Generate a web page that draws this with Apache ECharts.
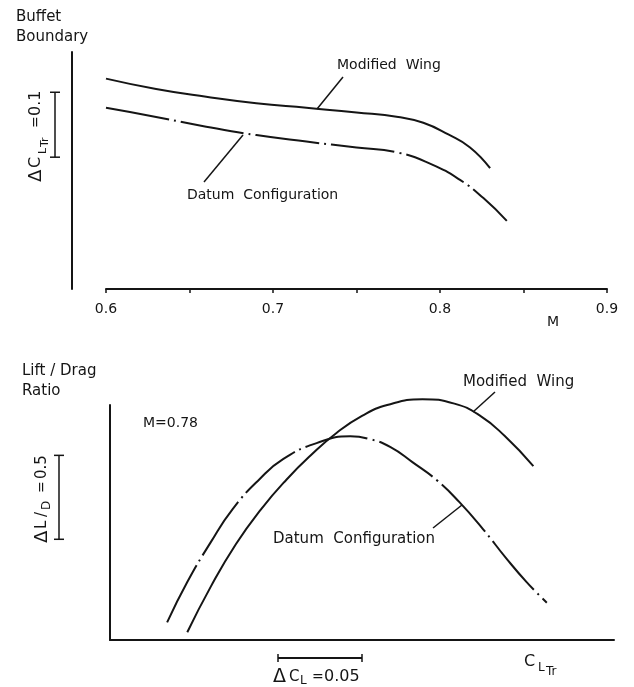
<!DOCTYPE html>
<html>
<head>
<meta charset="utf-8">
<script src="https://cdn.jsdelivr.net/npm/echarts@6/dist/echarts.min.js"></script>
<style>
  html, body { margin: 0; padding: 0; background: #fff; }
  #chart { width: 634px; height: 687px; }
</style>
</head>
<body>
<div id="chart"></div>
<script>
// ---- top panel: buffet boundary vs Mach number ----
var topModM = [0.600, 0.630, 0.660, 0.690, 0.720, 0.750, 0.775, 0.790, 0.805, 0.818, 0.830];
var topModY = [0.324, 0.308, 0.296, 0.286, 0.279, 0.272, 0.265, 0.256, 0.238, 0.218, 0.186];
var topDatM = [0.600, 0.630, 0.660, 0.690, 0.720, 0.750, 0.775, 0.795, 0.812, 0.826, 0.840];
var topDatY = [0.279, 0.265, 0.250, 0.237, 0.227, 0.218, 0.210, 0.192, 0.168, 0.140, 0.105];
var machTicks = [0.6, 0.7, 0.8, 0.9];
var topBar = [0.203, 0.303];          // delta CLTr = 0.1

// ---- bottom panel: lift/drag ratio vs CLTr (M = 0.78) ----
var botModCL = [0.046, 0.060, 0.075, 0.090, 0.105, 0.120, 0.135, 0.150, 0.165, 0.186, 0.205, 0.220, 0.235, 0.252];
var botModLD = [0.046, 0.318, 0.572, 0.780, 0.955, 1.105, 1.235, 1.335, 1.400, 1.435, 1.408, 1.338, 1.215, 1.036];
var botDatCL = [0.034, 0.046, 0.060, 0.073, 0.089, 0.103, 0.123, 0.143, 0.155, 0.167, 0.180, 0.195, 0.208, 0.222, 0.236, 0.248, 0.260];
var botDatLD = [0.105, 0.345, 0.583, 0.780, 0.958, 1.077, 1.173, 1.214, 1.196, 1.149, 1.060, 0.948, 0.821, 0.661, 0.485, 0.345, 0.222];
var botBarY = [0.6, 1.1];             // delta L/D = 0.5
var botBarX = [0.1, 0.15];            // delta CL = 0.05

var FONT = '"DejaVu Sans", sans-serif';
var INK = '#151515';

function pairs(xs, ys) {
    var out = [];
    for (var i = 0; i < xs.length; i++) out.push([xs[i], ys[i]]);
    return out;
}
function txt(x, y, s, size, align) {
    return {
        type: 'text', x: x, y: y, silent: true,
        style: { text: s, font: size + 'px ' + FONT, fill: INK, align: align || 'left', verticalAlign: 'middle' }
    };
}
function seg(x1, y1, x2, y2, w) {
    return { type: 'line', silent: true, shape: { x1: x1, y1: y1, x2: x2, y2: y2 }, style: { stroke: INK, lineWidth: w || 1.5 } };
}

var myChart = echarts.init(document.getElementById('chart'));

var solid = { color: INK, width: 2 };
var dashDot = { color: INK, width: 2, type: [64, 5, 2, 5] };

var option = {
    animation: false,
    backgroundColor: '#fff',
    grid: [
        { left: 106, right: 27, top: 52, height: 237 },
        { left: 110, right: 20, top: 405, height: 235 }
    ],
    xAxis: [{
        gridIndex: 0, type: 'value', min: 0.6, max: 0.9, interval: 0.05,
        axisLine: { lineStyle: { color: INK, width: 2 } },
        axisTick: { show: true, length: 4, lineStyle: { color: INK, width: 1.5 } },
        axisLabel: {
            color: INK, fontFamily: FONT, fontSize: 14, margin: 13,
            formatter: function (v) {
                for (var i = 0; i < machTicks.length; i++) {
                    if (Math.abs(v - machTicks[i]) < 1e-6) return machTicks[i].toFixed(1);
                }
                return '';
            }
        },
        splitLine: { show: false }
    }, {
        gridIndex: 1, type: 'value', min: 0, max: 0.3,
        axisLine: { lineStyle: { color: INK, width: 2 } },
        axisTick: { show: false }, axisLabel: { show: false }, splitLine: { show: false }
    }],
    yAxis: [{
        gridIndex: 0, type: 'value', min: 0, max: 0.365, offset: 34,
        axisLine: { show: true, lineStyle: { color: INK, width: 2 } },
        axisTick: { show: false }, axisLabel: { show: false }, splitLine: { show: false }
    }, {
        gridIndex: 1, type: 'value', min: 0, max: 1.4, offset: 33,
        axisLine: { show: true, lineStyle: { color: INK, width: 2 } },
        axisTick: { show: false }, axisLabel: { show: false }, splitLine: { show: false }
    }],
    series: [
        { name: 'Modified Wing', type: 'line', xAxisIndex: 0, yAxisIndex: 0, data: pairs(topModM, topModY),
          smooth: 0.5, showSymbol: false, clip: false, lineStyle: solid },
        { name: 'Datum Configuration', type: 'line', xAxisIndex: 0, yAxisIndex: 0, data: pairs(topDatM, topDatY),
          smooth: 0.5, showSymbol: false, clip: false, lineStyle: dashDot },
        { name: 'Modified Wing', type: 'line', xAxisIndex: 1, yAxisIndex: 1, data: pairs(botModCL, botModLD),
          smooth: 0.5, showSymbol: false, clip: false, lineStyle: solid },
        { name: 'Datum Configuration', type: 'line', xAxisIndex: 1, yAxisIndex: 1, data: pairs(botDatCL, botDatLD),
          smooth: 0.5, showSymbol: false, clip: false, lineStyle: dashDot }
    ]
};
myChart.setOption(option);

// scale bars placed through the axes
var tA = myChart.convertToPixel({ xAxisIndex: 0, yAxisIndex: 0 }, [0.6, topBar[0]]);
var tB = myChart.convertToPixel({ xAxisIndex: 0, yAxisIndex: 0 }, [0.6, topBar[1]]);
var bA = myChart.convertToPixel({ xAxisIndex: 1, yAxisIndex: 1 }, [botBarX[0], botBarY[0]]);
var bB = myChart.convertToPixel({ xAxisIndex: 1, yAxisIndex: 1 }, [botBarX[1], botBarY[1]]);

var g = [
    // top panel texts
    txt(16, 17, 'Buffet', 15), txt(16, 37, 'Boundary', 15),
    txt(337, 65, 'Modified  Wing', 14),
    txt(187, 195, 'Datum  Configuration', 14),
    txt(547, 322, 'M', 14),
    seg(343, 77, 317, 109), seg(204, 182, 243, 135),
    // top scale bar
    seg(55, tA[1], 55, tB[1]), seg(50, tA[1], 60, tA[1]), seg(50, tB[1], 60, tB[1]),
    {
        type: 'group', x: 36, y: 137, rotation: Math.PI / 2, silent: true,
        children: [
            txt(-45, 0, '\u0394', 18),
            txt(-31, 0, 'C', 16),
            txt(-17, 7, 'L', 11),
            txt(-10, 9, 'Tr', 11),
            txt(9, 0, '=', 14),
            txt(21, 0, '0.1', 16)
        ]
    },
    // bottom panel texts
    txt(22, 371, 'Lift / Drag', 15), txt(22, 391, 'Ratio', 15),
    txt(143, 423, 'M=0.78', 14),
    txt(463, 382, 'Modified  Wing', 15),
    txt(273, 539, 'Datum  Configuration', 15),
    seg(495, 392, 473, 412), seg(433, 528, 462, 505),
    // bottom vertical scale bar
    seg(59, bA[1], 59, bB[1]), seg(54, bA[1], 64, bA[1]), seg(54, bB[1], 64, bB[1]),
    {
        type: 'group', x: 42, y: 500, rotation: Math.PI / 2, silent: true,
        children: [
            txt(-43, 0, '\u0394', 18),
            txt(-29, 0, 'L', 15),
            txt(-17, 0, '/', 15),
            txt(-10, 5, 'D', 12),
            txt(7, 0, '=', 14),
            txt(21, 0, '0.5', 15)
        ]
    },
    // bottom horizontal scale bar
    seg(bA[0], 658, bB[0], 658, 2), seg(bA[0], 654, bA[0], 662), seg(bB[0], 654, bB[0], 662),
    txt(273, 677, '\u0394', 19), txt(289, 677, 'C', 15), txt(300, 681, 'L', 12),
    txt(312, 677, '=', 14), txt(324, 677, '0.05', 16),
    txt(524, 662, 'C', 16), txt(538, 668, 'L', 12), txt(546, 672, 'Tr', 12)
];
myChart.setOption({ graphic: g });
</script>
</body>
</html>
